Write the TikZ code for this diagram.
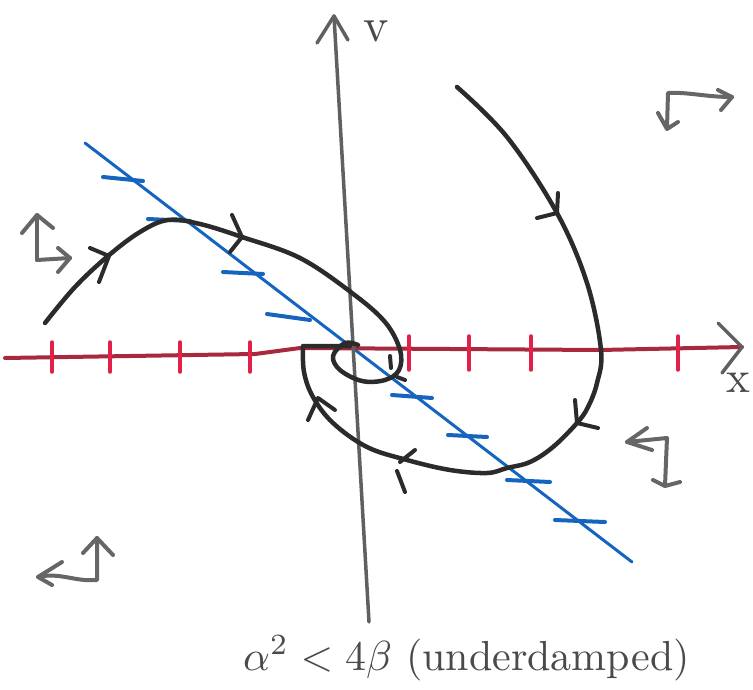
\documentclass[tikz,border=0pt]{standalone}
\usetikzlibrary{arrows.meta}
\definecolor{trajc}{HTML}{2B2B2B}
\definecolor{axgray}{HTML}{606060}
\definecolor{txtgray}{HTML}{4A4A4A}
\definecolor{axred}{HTML}{A8283C}
\definecolor{tickred}{HTML}{E3204A}
\definecolor{sepblue}{HTML}{1565C0}
\definecolor{dirgray}{HTML}{666666}
\begin{document}
\begin{tikzpicture}[x=1pt,y=-1pt, line cap=round, line join=round,
 trajline/.style={draw=trajc, line width=4.5pt},
 chev/.style={draw=trajc, line width=4pt},
 vaxis/.style={draw=axgray, line width=3.5pt},
 xaxis/.style={draw=axred, line width=4pt},
 xtick/.style={draw=tickred, line width=3.5pt},
 sepline/.style={draw=sepblue, line width=3pt},
 septick/.style={draw=sepblue, line width=4pt},
 dirarrow/.style={draw=dirgray, line width=4pt},
 lbl/.style={text=txtgray, inner sep=0pt}]
\useasboundingbox (0,0) rectangle (753,690);
% separatrix (blue)
\coordinate (b1) at (85,143);
\coordinate (b2) at (632,562);
\draw[sepline] (b1) -- (b2);
\foreach \a/\b in {{(103,177)}/{(143,181)}, {(148,219)}/{(190,221)}, {(223,272)}/{(263,274)}, {(267,314)}/{(310,320)}, {(392,395)}/{(432,398)}, {(448,435)}/{(487,437)}, {(507,480)}/{(550,482)}, {(555,520)}/{(605,522)}}
  \draw[septick] \a -- \b;
% x axis (red)
\coordinate (xl) at (5,358);
\coordinate (xr) at (742,347);
\draw[xaxis] (xl) -- (255,354) -- (300,348) -- (600,350) -- (xr);
\foreach \t in {52,110,180,250} \draw[xtick] (\t,342) -- (\t,372);
\foreach \t in {409,469,531,678} \draw[xtick] (\t,336) -- (\t,370);
\draw[vaxis] (718,323) -- (xr) -- (722,373);
\node[lbl] (xlab) at (738,383) {\scalebox{4.5}{x}};
% v axis
\coordinate (vb) at (369,622);
\coordinate (vt) at (334,16);
\draw[vaxis] (vb) -- (vt);
\draw[vaxis] (317,43) -- (vt) -- (348,40);
\node[lbl] (vlab) at (376,31) {\scalebox{4.8}{v}};
% trajectory 1 (from upper left, spiralling in)
\draw[trajline] plot[smooth, tension=0.6] coordinates {(45,323) (75,287) (108,256) (140,232) (168,220) (200,224) (242,237) (300,258) (352,293) (385,322) (400,350) (399,370) (385,380) (362,381) (340,370) (333,356) (345,343) (358,345)};
\draw[chev] (90,248) -- (109,256) -- (99,282);
\draw[chev] (232,215) -- (242,237) -- (230,252);
\draw[chev] (390,356) -- (391,368);
\draw[chev] (397,377) -- (405,380);
% trajectory 2 (from upper right)
\draw[trajline] plot[smooth, tension=0.6] coordinates {(457,87) (507,137) (557,213) (587,283) (601,350) (597,383) (588,407) (577,423) (553,447) (530,462) (507,468) (487,473) (450,470) (407,460) (367,447) (333,423) (313,397) (304,372) (303,346)} -- (350,346);
\draw[chev] (558,193) -- (557,213) -- (537,218);
\draw[chev] (575,400) -- (577,423) -- (598,428);
\draw[chev] (415,450) -- (400,462);
\draw[chev] (397,471) -- (405,492);
\draw[chev] (308,420) -- (318,398) -- (335,410);
% direction arrows
\draw[dirarrow] (37,260) -- (37,215);
\draw[dirarrow] (22,233) -- (37,215) -- (53,228);
\draw[dirarrow] (37,260) -- (70,258);
\draw[dirarrow] (58,248) -- (70,258) -- (58,272);
\draw[dirarrow] (667,128) -- (668,93) .. controls (690,92) and (705,97) .. (732,97);
\draw[dirarrow] (718,90) -- (732,97) -- (721,110);
\draw[dirarrow] (658,113) -- (667,129) -- (678,122);
\draw[dirarrow] (627,442) -- (667,438) -- (665,486);
\draw[dirarrow] (647,428) -- (627,442) -- (652,450);
\draw[dirarrow] (653,480) -- (665,486) -- (680,482);
\draw[dirarrow] (38,577) .. controls (60,572) and (75,582) .. (97,580) -- (97,538);
\draw[dirarrow] (83,553) -- (97,538) -- (113,555);
\draw[dirarrow] (62,562) -- (38,577) -- (52,585);
% label
\node[lbl, anchor=base west] (cond) at (243,670) {\scalebox{4.2}{$\alpha^2<4\beta$ (underdamped)}};
\end{tikzpicture}
\end{document}
